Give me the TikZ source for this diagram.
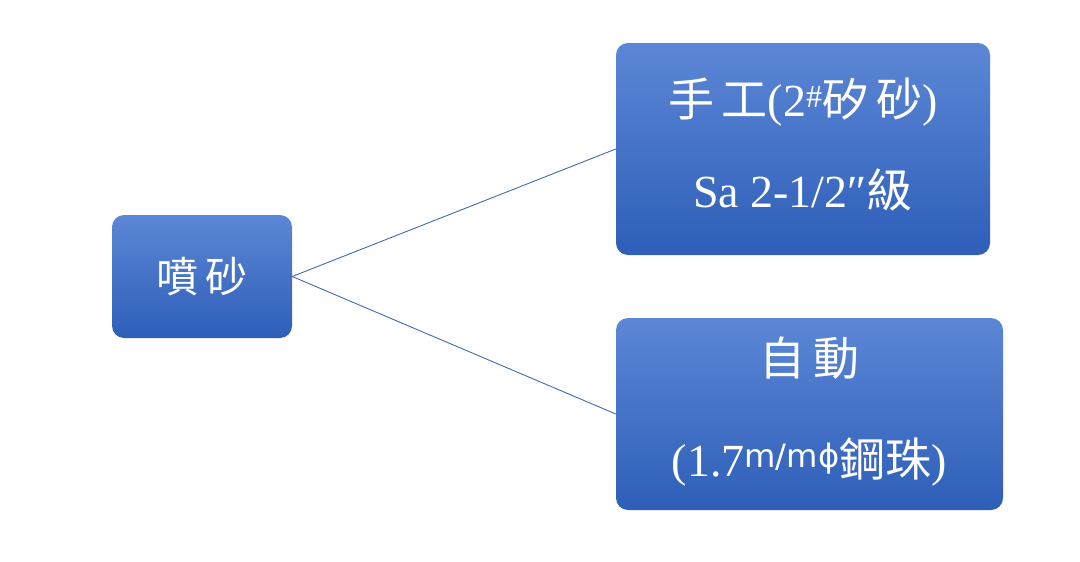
\documentclass[tikz,border=0pt]{standalone}
\usepackage{fontspec}
\setmainfont{Liberation Serif}
\newfontfamily\cjk{Noto Sans CJK TC}
\newfontfamily\dv{DejaVu Sans}
\begin{document}
\begin{tikzpicture}[x=1pt,y=-1pt,
  box/.style={draw=none,rounded corners=12pt,top color={rgb,255:red,92;green,135;blue,214},bottom color={rgb,255:red,46;green,94;blue,184},text=white,font=\fontsize{42}{46}\selectfont,align=center,inner sep=0pt},
  txt/.style={text=white,font=\fontsize{46}{48}\selectfont},
  conn/.style={draw={rgb,255:red,68;green,104;blue,176},line width=0.9pt}]
\useasboundingbox (0,0) rectangle (1080,562);
\node[box,minimum width=180pt,minimum height=123pt] (a) at (202,276.5) {{\cjk 噴\,砂}};
\node[box,minimum width=374pt,minimum height=212pt] (b) at (803,149) {};
\node[box,minimum width=387pt,minimum height=192pt] (c) at (809.5,414) {};
\node[txt] (b1) at (803,102) {{\cjk 手\,工}(2\textsuperscript{\#}{\cjk 矽\,砂})};
\node[txt] (b2) at (803,190) {Sa 2-1/2″{\cjk 級}};
\node[txt] (c1) at (809.5,358) {{\cjk 自\,動}};
\node[txt] (c2) at (809.5,462) {(1.7\textsuperscript{\dv m/mɸ}{\cjk 鋼珠})};
\draw[conn] (a.east) -- (b.west);
\draw[conn] (a.east) -- (c.west);
\end{tikzpicture}
\end{document}
